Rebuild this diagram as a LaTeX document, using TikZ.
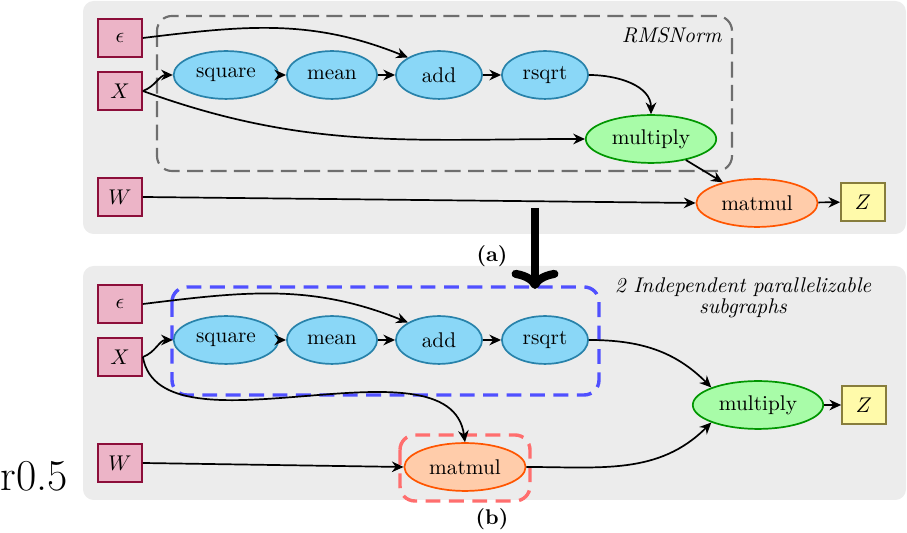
\documentclass[tikz,border=0pt]{standalone}
\usepackage{amsmath,amssymb}
\usepackage{xcolor}
\usepackage{tikz}
\usetikzlibrary{arrows.meta, shapes.geometric}
\definecolor{rnInput}{RGB}{236,180,199}
\definecolor{rnInputLine}{RGB}{140,14,58}
\definecolor{rnOp}{RGB}{138,215,247}
\definecolor{rnOpLine}{RGB}{40,130,170}
\definecolor{rnMul}{RGB}{168,252,168}
\definecolor{rnMulLine}{RGB}{0,150,0}
\definecolor{rnMatmul}{RGB}{255,204,170}
\definecolor{rnMatmulLine}{RGB}{255,85,0}
\definecolor{rnOut}{RGB}{255,250,170}
\definecolor{rnOutLine}{RGB}{135,125,60}
\definecolor{rnPanel}{RGB}{236,236,236}
\definecolor{rnGroup}{RGB}{110,110,110}
\definecolor{rnPar}{RGB}{80,80,255}
\definecolor{rnSplit}{RGB}{255,110,110}

\begin{document}
\begin{tikzpicture}[
    x=0.47pt, y=0.47pt,
    panel/.style={fill=rnPanel, rounded corners=5pt},
    tensor/.style={draw=rnInputLine, fill=rnInput, line width=0.8pt,
      minimum width=20.7pt, minimum height=17.9pt, inner sep=0pt},
    outbox/.style={tensor, draw=rnOutLine, fill=rnOut},
    op/.style={ellipse, draw=rnOpLine, fill=rnOp, line width=0.8pt,
      minimum width=40.5pt, minimum height=22.5pt, inner sep=3.33pt},
    mulop/.style={op, draw=rnMulLine, fill=rnMul},
    mmop/.style={op, draw=rnMatmulLine, fill=rnMatmul},
    normgrp/.style={draw=rnGroup, line width=1pt, dash pattern=on 7.5pt off 3.5pt, rounded corners=7pt},
    pargrp/.style={draw=rnPar, line width=1.6pt, dash pattern=on 7pt off 4pt, rounded corners=7pt},
    splitgrp/.style={pargrp, draw=rnSplit},
    arr/.style={-{Stealth[length=5.5pt,width=5pt,inset=1.8pt]}, thick},
    bigarr/.style={-{Computer Modern Rightarrow[length=9pt,width=22pt,round]}, line width=3.8pt}
  ]
    \useasboundingbox (0,0) rectangle (907,-533);
    \fill[panel] (83,-1) rectangle (906,-234);
    \fill[panel] (83,-266) rectangle (906,-500);

    % (a) sequential RMSNorm
    \draw[normgrp] (157,-16) rectangle (732,-171);
    \node[anchor=east, font=\itshape] (normlbl) at (729,-35) {RMSNorm};
    \node[tensor] (eps1) at (120,-38) {$\epsilon$};
    \node[tensor] (x1) at (120,-91) {$X$};
    \node[tensor] (w1) at (120,-197) {$W$};
    \node[op] (sq1) at (226,-75) {square};
    \node[op] (mean1) at (332,-75) {mean};
    \node[op] (add1) at (439,-75) {add};
    \node[op] (rs1) at (545,-75) {rsqrt};
    \node[mulop] (mul1) at (651,-139) {multiply};
    \node[mmop] (mm1) at (757,-203) {matmul};
    \node[outbox] (z1) at (863,-202) {$Z$};
    \draw[arr] (eps1.east) to[out=7, in=158] (add1.north west);
    \draw[arr] (x1.east) to[out=20, in=180] (sq1.west);
    \draw[arr] (sq1) -- (mean1);
    \draw[arr] (mean1) -- (add1);
    \draw[arr] (add1) -- (rs1);
    \draw[arr] (rs1.east) to[out=0, in=90] (mul1.north);
    \draw[arr] (x1.east) to[out=-20, in=180] (mul1.west);
    \draw[arr] (mul1) -- (mm1);
    \draw[arr] (w1.east) -- (mm1.west);
    \draw[arr] (mm1) -- (z1);

    % (b) split into two subgraphs
    \draw[pargrp] (172,-287) rectangle (599,-395);
    \draw[splitgrp] (400,-435) rectangle (530,-501);
    \node[font=\itshape, align=center] (parlbl) at (743,-298) {2 Independent parallelizable\\[-2pt]subgraphs};
    \node[tensor] (eps2) at (120,-304) {$\epsilon$};
    \node[tensor] (x2) at (120,-357) {$X$};
    \node[tensor] (w2) at (120,-463) {$W$};
    \node[op] (sq2) at (226,-340) {square};
    \node[op] (mean2) at (332,-340) {mean};
    \node[op] (add2) at (439,-340) {add};
    \node[op] (rs2) at (545,-340) {rsqrt};
    \node[mulop] (mul2) at (758,-405) {multiply};
    \node[mmop] (mm2) at (465,-467) {matmul};
    \node[outbox] (z2) at (864,-405) {$Z$};
    \draw[arr] (eps2.east) to[out=7, in=158] (add2.north west);
    \draw[arr] (x2.east) to[out=20, in=180] (sq2.west);
    \draw[arr] (sq2) -- (mean2);
    \draw[arr] (mean2) -- (add2);
    \draw[arr] (add2) -- (rs2);
    \draw[arr] (x2.east) .. controls +(18,-103) and +(-15,110) .. (mm2.north);
    \draw[arr] (w2.east) -- (mm2.west);
    \draw[arr] (rs2.east) to[out=0, in=135] (mul2.north west);
    \draw[arr] (mm2.east) to[out=0, in=-135] (mul2.south west);
    \draw[arr] (mul2) -- (z2);

    \node[font=\bfseries] (capa) at (492,-256) {(a)};
    \node[font=\bfseries] (capb) at (492,-519) {(b)};
    \node[anchor=base west, font=\huge, inner sep=0pt] (stray) at (0,-491) {r0.5};
    \coordinate (downtop) at (535,-208);
    \coordinate (downtip) at (535,-289);
    \draw[bigarr] (downtop) -- (downtip);
  \end{tikzpicture}
\end{document}
